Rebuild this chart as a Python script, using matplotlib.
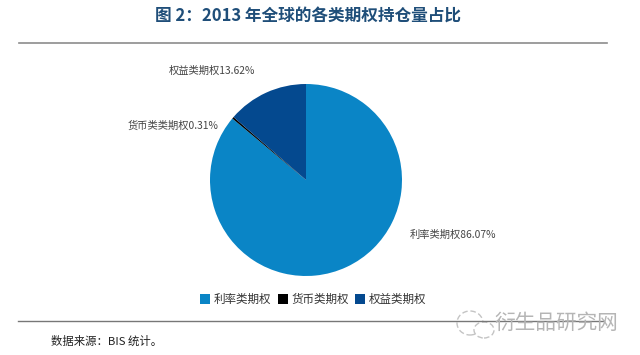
import matplotlib
matplotlib.use("Agg")
import matplotlib.pyplot as plt
from matplotlib.lines import Line2D
from matplotlib.patches import Rectangle, Ellipse

plt.rcParams['font.family'] = ['Noto Sans CJK SC', 'DejaVu Sans']

categories = ['利率类期权', '货币类期权', '权益类期权']
# the source picture really prints 货币类类期权 on the pie label
pie_labels = ['利率类期权', '货币类类期权', '权益类期权']
shares = [86.07, 0.31, 13.62]
colors = ['#0a85c6', '#000000', '#04498f']

W, H = 640, 355
fig = plt.figure(figsize=(W / 100, H / 100), dpi=100, facecolor='white')

def fx(x):
    return x / W

def fy(y):
    return 1 - y / H

# pie
cx, cy, r = 306, 180, 96
ax = fig.add_axes([fx(cx - r), fy(cy + r), 2 * r / W, 2 * r / H])
ax.pie(shares, colors=colors, startangle=90, counterclock=False, radius=1,
       wedgeprops={'linewidth': 0})
ax.set_xlim(-1, 1)
ax.set_ylim(-1, 1)

fig.text(fx(155), fy(17), '图 2：2013 年全球的各类期权持仓量占比', color='#1f4e79',
         fontsize=12, fontweight='bold', ha='left', va='center')

# outer labels
label_pos = [(410, 235), (128, 126), (169, 71)]
for name, val, (x, y) in zip(pie_labels, shares, label_pos):
    fig.text(fx(x), fy(y), f'{name}{val:.2f}%', color='#444444', fontsize=7.4,
             ha='left', va='center')

# rules
fig.add_artist(Line2D([fx(19), fx(607)], [fy(43), fy(43)], color='#8c8c8c', lw=1.2))
fig.add_artist(Line2D([fx(18), fx(604)], [fy(321), fy(321)], color='#777777', lw=1.0))

# legend
legend_x = [200, 278, 355]
for name, col, x in zip(categories, colors, legend_x):
    fig.add_artist(Rectangle((fx(x), fy(304)), 10 / W, 10 / H, color=col,
                             transform=fig.transFigure, lw=0))
    fig.text(fx(x + 13.5), fy(299), name, color='#333333', fontsize=8.3,
             ha='left', va='center')

fig.text(fx(51), fy(341), '数据来源：BIS 统计。', color='#222222', fontsize=8.2,
         ha='left', va='center')

# watermark
for (x, y, w, h) in [(470, 323, 26, 24), (484, 330, 20, 16)]:
    fig.add_artist(Ellipse((fx(x), fy(y)), w / W, h / H, transform=fig.transFigure,
                           fill=True, facecolor='white', edgecolor='#c4c4c4',
                           lw=1.0, ls=(0, (4, 2))))
fig.text(fx(494), fy(323), '衍生品研究网', color='#b5b5b5', fontsize=14.9,
         ha='left', va='center', fontweight='light')

fig.savefig('out.png', dpi=100, facecolor='white')
